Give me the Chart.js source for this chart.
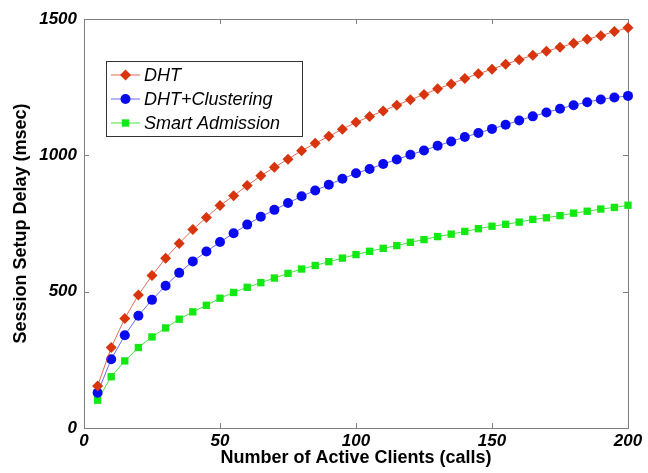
<!DOCTYPE html>
<html>
<head>
<meta charset="utf-8">
<script src="https://cdn.jsdelivr.net/npm/chart.js@4.4.1/dist/chart.umd.min.js"></script>
<style>
  html, body { margin: 0; padding: 0; background: #fff; }
  #wrap { width: 648px; height: 473px; }
</style>
</head>
<body>
<div id="wrap"><canvas id="delayChart" width="648" height="473"></canvas></div>
<script>
// number of active clients (calls)
var clients = [5,10,15,20,25,30,35,40,45,50,55,60,65,70,75,80,85,90,95,100,
               105,110,115,120,125,130,135,140,145,150,155,160,165,170,175,180,185,190,195,200];

// session setup delay (msec)
var dhtDelay = [154,295,402,488,559,623,677,728,772,816,852,889,925,956,986,1017,1044,1070,1096,1121,
                1142,1163,1184,1204,1223,1244,1262,1282,1299,1316,1334,1351,1367,1382,1396,1411,1426,1439,1454,1468];
var clusterDelay = [129,252,340,412,470,522,569,611,647,682,714,746,775,800,825,850,871,892,914,934,
                    950,968,985,1002,1018,1035,1051,1067,1082,1097,1112,1128,1143,1157,1171,1184,1195,1205,1212,1218];
var smartDelay = [102,188,246,295,334,367,399,426,450,476,497,516,533,550,567,583,596,610,623,636,
                  648,659,669,681,691,702,711,721,731,740,747,755,765,771,779,788,795,803,809,817];

var seriesNames = ["DHT","DHT+Clustering","Smart Admission"];
var xTicks = [0,50,100,150,200];
var yTicks = [0,500,1000,1500];

function toPoints(ys){
    var pts=[];
    for(var i=0;i<clients.length;i++){
        pts.push({x:clients[i],y:ys[i]});
    }
    return pts;
}

var frameColor="#7f7f7f";
var fontName="'Liberation Sans', Arial, sans-serif";

//边框和向内的刻度
var framePlugin={
    id:"frame",
    beforeDatasetsDraw:function(chart){
        var ctx=chart.ctx, a=chart.chartArea;
        var xs=chart.scales.x, ys=chart.scales.y;
        ctx.save();
        ctx.strokeStyle=frameColor;
        ctx.lineWidth=1;
        ctx.strokeRect(Math.round(a.left)+0.5,Math.round(a.top)+0.5,
            Math.round(a.right-a.left),Math.round(a.bottom-a.top));
        ctx.beginPath();
        for(var i=0;i<xTicks.length;i++){
            var px=Math.round(xs.getPixelForValue(xTicks[i]))+0.5;
            ctx.moveTo(px,a.bottom);ctx.lineTo(px,a.bottom-5);
            ctx.moveTo(px,a.top);ctx.lineTo(px,a.top+5);
        }
        for(var j=0;j<yTicks.length;j++){
            var py=Math.round(ys.getPixelForValue(yTicks[j]))+0.5;
            ctx.moveTo(a.left,py);ctx.lineTo(a.left+5,py);
            ctx.moveTo(a.right,py);ctx.lineTo(a.right-5,py);
        }
        ctx.stroke();
        ctx.restore();
    }
};

//图例
var legendPlugin={
    id:"boxLegend",
    afterDraw:function(chart){
        var ctx=chart.ctx;
        var bx=106, by=61, bw=196, bh=75;
        ctx.save();
        ctx.fillStyle="#fff";
        ctx.fillRect(bx,by,bw,bh);
        ctx.strokeStyle="#333";
        ctx.lineWidth=1;
        ctx.strokeRect(bx+0.5,by+0.5,bw,bh);
        var sets=chart.data.datasets;
        for(var i=0;i<sets.length;i++){
            var ds=sets[i];
            var cy=75+i*24;
            ctx.strokeStyle=ds.borderColor;
            ctx.lineWidth=1;
            ctx.beginPath();
            ctx.moveTo(111,cy);ctx.lineTo(140,cy);
            ctx.stroke();
            ctx.fillStyle=ds.pointBackgroundColor;
            var cx=125.5, r=ds.pointRadius;
            ctx.beginPath();
            if(ds.pointStyle==="rectRot"){
                ctx.moveTo(cx,cy-r);ctx.lineTo(cx+r,cy);ctx.lineTo(cx,cy+r);ctx.lineTo(cx-r,cy);
            }else if(ds.pointStyle==="rect"){
                var s=r*Math.SQRT1_2;
                ctx.rect(cx-s,cy-s,2*s,2*s);
            }else{
                ctx.arc(cx,cy,r,0,Math.PI*2);
            }
            ctx.closePath();
            ctx.fill();
            ctx.fillStyle="#000";
            ctx.font="italic 18px "+fontName;
            ctx.textBaseline="middle";
            ctx.textAlign="left";
            ctx.fillText(seriesNames[i],144,cy+1);
        }
        ctx.restore();
    }
};

var delayChart=new Chart(document.getElementById("delayChart"),{
    type:"line",
    data:{
        datasets:[
            {
                label:seriesNames[0],
                data:toPoints(dhtDelay),
                borderColor:"rgba(214,60,30,0.75)",
                borderWidth:1,
                pointStyle:"rectRot",
                pointRadius:5.5,
                pointBackgroundColor:"#d8340e",
                pointBorderWidth:0,
                clip:false
            },
            {
                label:seriesNames[1],
                data:toPoints(clusterDelay),
                borderColor:"rgba(40,40,230,0.7)",
                borderWidth:1,
                pointStyle:"circle",
                pointRadius:5,
                pointBackgroundColor:"#0a0af0",
                pointBorderWidth:0,
                clip:false
            },
            {
                label:seriesNames[2],
                data:toPoints(smartDelay),
                borderColor:"rgba(20,220,20,0.8)",
                borderWidth:1,
                pointStyle:"rect",
                pointRadius:5.2,
                pointBackgroundColor:"#12e812",
                pointBorderWidth:0,
                clip:false
            }
        ]
    },
    options:{
        responsive:false,
        animation:false,
        layout:{padding:{left:0,top:19,right:20,bottom:0}},
        plugins:{legend:{display:false},tooltip:{enabled:false}},
        scales:{
            x:{
                type:"linear",
                min:0,max:200,
                afterFit:function(scale){scale.height=45;},
                afterBuildTicks:function(scale){
                    scale.ticks=xTicks.map(function(v){return {value:v};});
                },
                grid:{display:false,drawTicks:false},
                border:{display:false},
                ticks:{
                    color:"#000",padding:3,maxRotation:0,
                    callback:function(v){return String(v);},
                    font:{family:fontName,size:17,style:"italic",weight:"bold"}
                },
                title:{
                    display:true,
                    text:"Number of Active Clients (calls)",
                    color:"#000",
                    padding:{top:0,bottom:4},
                    font:{family:fontName,size:18,weight:"bold"}
                }
            },
            y:{
                type:"linear",
                min:0,max:1500,
                afterFit:function(scale){scale.width=84;},
                afterBuildTicks:function(scale){
                    scale.ticks=yTicks.map(function(v){return {value:v};});
                },
                grid:{display:false,drawTicks:false},
                border:{display:false},
                ticks:{
                    color:"#000",padding:7,
                    callback:function(v){return String(v);},
                    font:{family:fontName,size:17,style:"italic",weight:"bold"}
                },
                title:{
                    display:true,
                    text:"Session Setup Delay (msec)",
                    color:"#000",
                    padding:{top:10,bottom:0},
                    font:{family:fontName,size:18,weight:"bold"}
                }
            }
        }
    },
    plugins:[framePlugin,legendPlugin]
});
</script>
</body>
</html>
